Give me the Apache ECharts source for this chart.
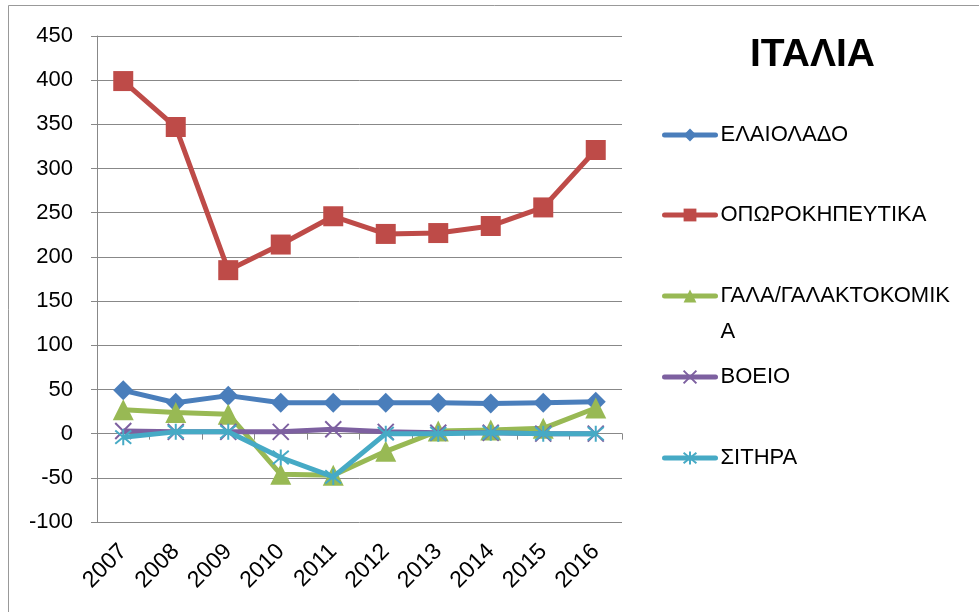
<!DOCTYPE html>
<html><head><meta charset="utf-8">
<script src="https://cdn.jsdelivr.net/npm/echarts@6/dist/echarts.min.js"></script>
<style>html,body{margin:0;padding:0;background:#fff}#c{width:979px;height:612px}</style>
</head><body><div id="c"></div>
<script>
const years = ['2007','2008','2009','2010','2011','2012','2013','2014','2015','2016'];
const names = ['ΕΛΑΙΟΛΑΔΟ','ΟΠΩΡΟΚΗΠΕΥΤΙΚΑ','ΓΑΛΑ/ΓΑΛΑΚΤΟΚΟΜΙΚΑ','ΒΟΕΙΟ','ΣΙΤΗΡΑ'];
const elaiolado = [49, 35, 43, 35, 35, 35, 35, 34, 35, 36];
const oporokipeftika = [399, 347, 185, 214, 246, 226, 227, 235, 256, 321];
const gala = [27, 24, 22, -46, -47, -20, 3, 4, 6, 29];
const voeio = [3, 2, 2, 2, 5, 2, 1, 1, 0, 0];
const sitira = [-4, 2, 2, -27, -49, 0, 0, 1, 0, 0];
const yTicks = [-100, -50, 0, 50, 100, 150, 200, 250, 300, 350, 400, 450];

const colors = ['#4A7EBB', '#BE4B48', '#98B954', '#7D60A0', '#46AAC5'];
const symbols = ['diamond', 'rect', 'triangle', 'path://M0,0L10,10M10,0L0,10', 'path://M5,-1L5,11M0,0L10,10M10,0L0,10'];
const sizes = [20, 20, 21, 16, 16];
const seriesData = [elaiolado, oporokipeftika, gala, voeio, sitira];
const FONT = 'Liberation Sans';

const chart = echarts.init(document.getElementById('c'), null, {renderer: 'canvas'});
const legendCenters = [135, 215, 296, 377, 458];
const legends = names.map((n, i) => {
  const lh = i === 2 ? 36 : 26;
  const lines = i === 2 ? 3 : 1;
  return {
    data: [n],
    orient: 'vertical',
    left: 662,
    top: legendCenters[i] - lh * lines / 2,
    padding: 0,
    itemWidth: 51,
    itemHeight: 16,
    lineStyle: {width: 5, cap: 'round'},
    formatter: nm => nm === 'ΓΑΛΑ/ΓΑΛΑΚΤΟΚΟΜΙΚΑ' ? '\nΓΑΛΑ/ΓΑΛΑΚΤΟΚΟΜΙΚ\nΑ' : nm,
    textStyle: {fontFamily: FONT, fontSize: 22, color: '#000', lineHeight: lh}
  };
});

chart.setOption({
  animation: false,
  backgroundColor: '#fff',
  title: {text: 'ΙΤΑΛΙΑ', left: 750, top: 36, padding: 0, textStyle: {fontFamily: FONT, fontSize: 39, fontWeight: 'bold', color: '#000'}},
  legend: legends,
  grid: {left: 97, top: 36, right: 357, bottom: 90, containLabel: false},
  xAxis: [
    {type: 'category', data: years, position: 'bottom', boundaryGap: true,
     axisLine: {show: false, onZero: false}, axisTick: {show: false}, splitLine: {show: false},
     axisLabel: {rotate: 45, margin: 26, padding: [11, 0, 0, 0], fontFamily: FONT, fontSize: 23, color: '#000', interval: 0}},
    {type: 'category', data: years, position: 'bottom', boundaryGap: true,
     axisLine: {show: true, onZero: true, lineStyle: {color: '#888', width: 1}},
     axisTick: {show: true, inside: false, length: 6, lineStyle: {color: '#888'}},
     axisLabel: {show: false}, splitLine: {show: false}}
  ],
  yAxis: {
    type: 'value', min: yTicks[0], max: yTicks[yTicks.length - 1], interval: 50,
    axisLine: {show: true, lineStyle: {color: '#888', width: 1}},
    axisTick: {show: true, length: 6, lineStyle: {color: '#888'}},
    splitLine: {show: true, lineStyle: {color: '#888', width: 1}},
    axisLabel: {margin: 24, fontFamily: FONT, fontSize: 22, color: '#000'}
  },
  graphic: [{type: 'rect', shape: {x: 8.5, y: 5.5, width: 1000, height: 700}, style: {fill: 'none', stroke: '#999', lineWidth: 1}, silent: true}],
  series: names.map((n, i) => ({
    name: n, type: 'line', data: seriesData[i], xAxisIndex: 0,
    symbol: symbols[i], symbolSize: sizes[i],
    lineStyle: {color: colors[i], width: 5},
    itemStyle: {color: i >= 3 ? 'rgba(0,0,0,0)' : colors[i], borderColor: colors[i], borderWidth: i >= 3 ? 2 : 0},
    z: 2 + i
  }))
});
</script></body></html>
